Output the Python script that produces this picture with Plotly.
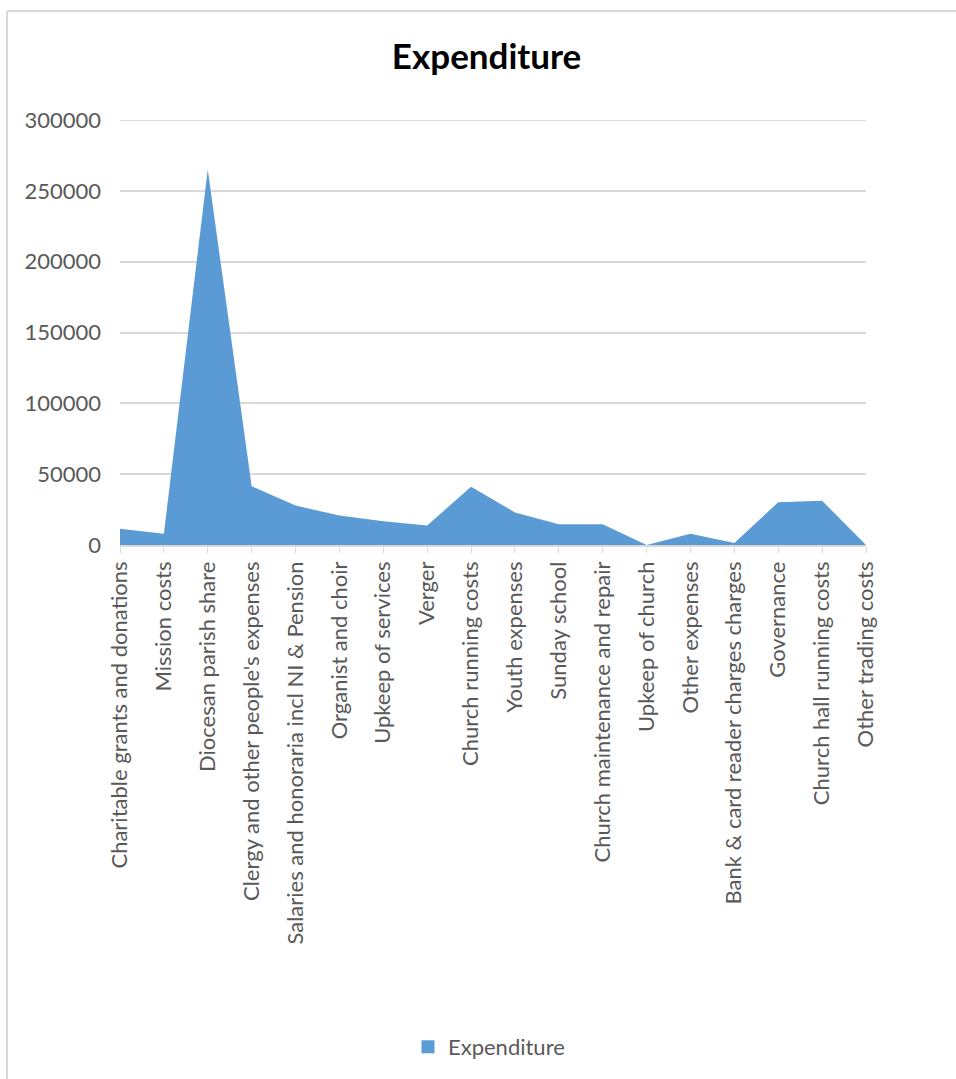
import plotly.graph_objects as go

categories = [
    "Charitable grants and donations",
    "Mission costs",
    "Diocesan parish share",
    "Clergy and other people's expenses",
    "Salaries and honoraria incl NI & Pension",
    "Organist and choir",
    "Upkeep of services",
    "Verger",
    "Church running costs",
    "Youth expenses",
    "Sunday school",
    "Church maintenance and repair",
    "Upkeep of church",
    "Other expenses",
    "Bank & card reader charges charges",
    "Governance",
    "Church hall running costs",
    "Other trading costs",
]
expenditure = [11500, 8000, 265000, 41500, 27800, 20800, 16800, 13800, 41100,
               23000, 14700, 14700, 0, 8000, 1500, 30200, 31200, 0]

y_ticks = [0, 50000, 100000, 150000, 200000, 250000, 300000]
y_max = 300000

W, H = 956, 1079
L, R, T, B = 120, 866, 120, 545

def px_x(p):
    return (p - L) / (R - L)

def px_y(p):
    return (B - p) / (B - T)

font_family = "Lato, 'Open Sans', sans-serif"
blue = "#5b9bd5"

fig = go.Figure()
fig.add_trace(go.Scatter(
    x=categories, y=expenditure, name="Expenditure",
    mode="lines", fill="tozeroy",
    line=dict(color=blue, width=0),
    fillcolor=blue,
    showlegend=False,
))
# legend-only entry with a square swatch
fig.add_trace(go.Scatter(
    x=[None], y=[None], name="Expenditure", mode="markers",
    marker=dict(symbol="square", size=13, color=blue),
    showlegend=True,
))

fig.update_layout(
    width=W, height=H,
    margin=dict(l=L, r=W - R, t=T, b=H - B, pad=0),
    paper_bgcolor="white", plot_bgcolor="white",
    font=dict(family=font_family, color="#595959", size=22),
    title=dict(text="<b>Expenditure</b>", x=0.509, xref="container", xanchor="center",
               y=1 - 57 / H, yref="container", yanchor="middle",
               font=dict(family=font_family, size=35, color="#000000")),
    showlegend=True,
    legend=dict(orientation="h", x=px_x(489), xanchor="center", xref="paper",
                y=px_y(1047), yanchor="middle", yref="paper",
                font=dict(size=22, color="#595959"), itemwidth=30),
    xaxis=dict(type="category", range=[0, len(categories) - 1], automargin=False,
               tickangle=-90, ticks="outside", ticklen=6, tickcolor="#d9d9d9",
               showline=True, linecolor="#d9d9d9", linewidth=1.5,
               showgrid=False, tickfont=dict(size=22, color="#595959")),
    yaxis=dict(range=[0, y_max], tickvals=y_ticks, ticktext=[str(v) for v in y_ticks],
               automargin=False, showgrid=True, gridcolor="#d9d9d9", gridwidth=1.5,
               zeroline=False, showline=False, ticks="", ticklabelstandoff=18,
               tickfont=dict(size=22, color="#595959")),
    shapes=[
        dict(type="line", xref="paper", yref="y", x0=0, x1=1,
             y0=y_max, y1=y_max, line=dict(color="#d9d9d9", width=2), layer="below"),
        dict(type="line", xref="paper", yref="paper", x0=px_x(7), x1=px_x(960),
             y0=px_y(11), y1=px_y(11), line=dict(color="#d9d9d9", width=2)),
        dict(type="line", xref="paper", yref="paper", x0=px_x(7), x1=px_x(7),
             y0=px_y(11), y1=px_y(1085), line=dict(color="#d9d9d9", width=2)),
    ],
)

fig.write_html("out.html")
